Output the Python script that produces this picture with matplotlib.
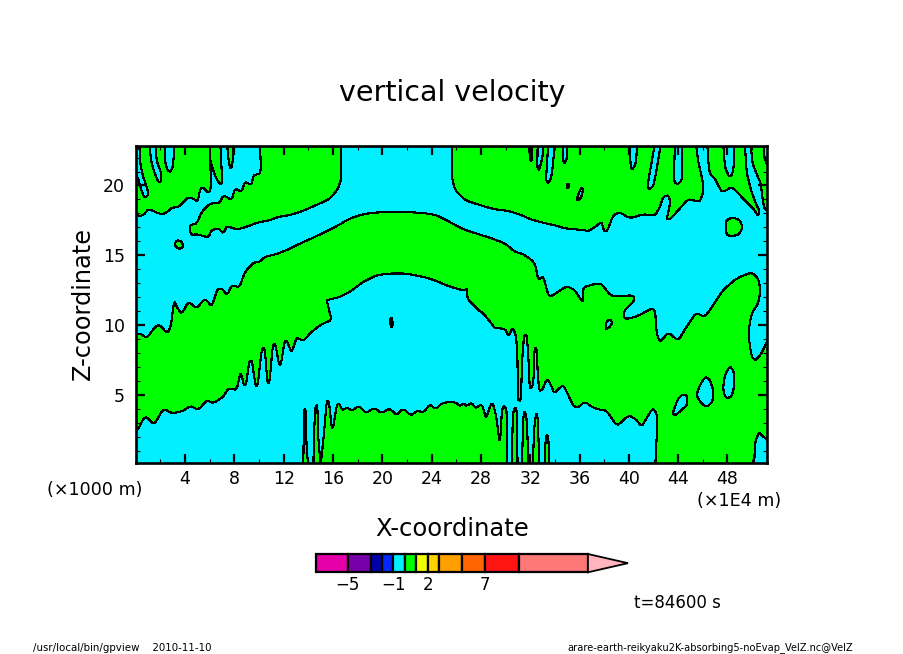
# -*- coding: utf-8 -*-
import matplotlib
matplotlib.use('Agg')
import matplotlib.pyplot as plt
from matplotlib.patches import PathPatch
from matplotlib.path import Path

WIDTH_PX = 904
HEIGHT_PX = 654

GREEN = '#00ff00'
CYAN = '#00f0ff'
CORNER_CUT = 0.3

# contour outlines, x in 1E4 m tick units, z in 1000 m
tl_left_x = [0, 6.0, 6.05, 6.1, 6.0, 5.78, 5.51, 5.24, 5.02, 4.56, 4.16, 3.89, 3.48, 2.94, 2.54, 2.13, 1.73, 1.32, 0.97, 0.73, 0.38, 0]
tl_left_z = [23, 23, 21.68, 20.0, 19.53, 19.53, 19.84, 19.77, 18.86, 19.1, 19.1, 18.81, 18.46, 18.41, 18.1, 17.93, 18.05, 18.22, 18.26, 17.98, 17.81, 17.91]
tl_finger1_x = [6.0, 6.0, 6.32, 6.67, 6.94, 7.0, 6.86]
tl_finger1_z = [23, 21.92, 20.96, 20.25, 20.08, 20.49, 23]
tl_finger2_x = [7.4, 7.56, 7.73, 7.86, 7.89]
tl_finger2_z = [23, 21.56, 21.15, 21.68, 23]
tl_big_x = [10.08, 10.16, 9.54, 9.4, 8.86, 8.59, 8.05, 7.78, 7.11, 6.78, 6.03, 5.35, 4.95, 4.4, 4.35, 4.54, 4.95, 5.89, 6.16, 6.7, 7.11, 7.38, 8.19, 8.86, 9.81, 10.89, 11.57, 12.51, 13.59, 14.95, 15.76, 16.43, 16.7, 16.62]
tl_big_z = [23, 20.86, 20.74, 20.03, 20.27, 19.55, 19.79, 18.95, 19.31, 18.72, 18.72, 18.12, 17.28, 17.16, 16.81, 16.45, 16.52, 16.28, 16.81, 16.93, 16.57, 17.09, 16.85, 17.0, 17.33, 17.52, 17.76, 17.88, 18.19, 18.72, 19.07, 19.79, 20.62, 23]
tl_blob_x = [3.13, 3.32, 3.65, 3.86, 3.73, 3.41]
tl_blob_z = [15.78, 16.07, 16.04, 15.71, 15.49, 15.49]

tl_hole1_x = [0.29, 0.35, 0.56, 0.84, 1.0, 0.94, 0.67, 0.46, 0.24, 0, 0]
tl_hole1_z = [23, 21.68, 20.72, 20.01, 19.53, 19.22, 19.17, 19.65, 20.37, 20.91, 23]
tl_hole2_x = [1.11, 1.24, 1.46, 1.73, 1.92, 2.08, 2.08, 1.73, 1.65, 1.65]
tl_hole2_z = [23, 21.8, 21.08, 20.44, 20.2, 20.37, 20.84, 21.68, 22.15, 23]
tl_hole3_x = [2.32, 2.4, 2.59, 2.81, 3.0, 3.08, 3.08]
tl_hole3_z = [23, 21.56, 21.08, 20.96, 21.32, 22.04, 23]

tr_big_x = [25.63, 25.63, 25.9, 26.71, 27.92, 29.0, 30.22, 31.3, 31.98, 32.92, 34.14, 34.81, 36.3, 36.71, 37.38, 37.79, 37.98, 38.25, 38.73, 39.27, 40.08, 41.17, 42.11, 42.52, 42.79, 43.19, 43.38, 43.06, 43.33, 44.14, 44.81, 45.44, 45.76, 46.03, 45.98, 45.63, 45.44]
tr_big_z = [23, 20.62, 19.67, 18.95, 18.6, 18.31, 18.19, 17.88, 17.59, 17.36, 17.12, 16.93, 16.81, 16.73, 17.12, 17.4, 16.73, 16.76, 17.88, 18.07, 17.64, 17.95, 17.83, 18.48, 19.19, 19.31, 18.83, 17.59, 17.57, 18.36, 19.03, 18.89, 18.86, 19.53, 20.37, 21.68, 23]
tr_hole_a_x = [31.9, 31.98, 32.11, 32.19]
tr_hole_a_z = [23, 21.82, 21.7, 23]
tr_hole_b_x = [32.6, 32.57, 32.73, 33.0, 33.06]
tr_hole_b_z = [23, 21.22, 21.1, 22.06, 23]
tr_hole_c_x = [33.46, 33.27, 33.46, 33.73, 34.0]
tr_hole_c_z = [23, 20.39, 20.15, 20.62, 23]
tr_hole_d_x = [34.68, 34.68, 34.81, 35.0, 35.0]
tr_hole_d_z = [23, 21.7, 21.58, 22.06, 23]
tr_hole_e_x = [40.08, 40.14, 40.3, 40.57, 40.68]
tr_hole_e_z = [23, 21.34, 21.15, 21.58, 23]
tr_hole_f_x = [42.11, 41.49, 41.7, 42.03, 42.6]
tr_hole_f_z = [23, 19.91, 19.72, 20.03, 23]
tr_hole_g_x = [43.73, 43.65, 43.95, 44.33, 44.27]
tr_hole_g_z = [23, 20.27, 20.08, 20.39, 23]
tr_speck1_x = [34.95, 35.0, 35.16, 35.08]
tr_speck1_z = [19.79, 20.15, 20.1, 19.79]
tr_speck2_x = [35.76, 36.08, 36.3, 36.16, 35.9]
tr_speck2_z = [19.0, 19.79, 19.79, 19.19, 18.95]

tr_mid_x = [46.36, 46.44, 46.57, 46.98, 47.25, 47.52, 47.79, 48.33, 48.73, 49.41, 50.09, 50.5, 50.57, 50.36, 49.95, 49.54, 49.41]
tr_mid_z = [23, 21.68, 20.84, 20.48, 20.01, 19.58, 19.6, 19.89, 19.58, 18.93, 18.34, 17.81, 18.22, 18.58, 19.53, 20.96, 23]
tr_mid_hole_x = [47.65, 47.79, 48.14, 48.41, 48.54, 48.54]
tr_mid_hole_z = [23, 21.32, 20.6, 20.84, 21.68, 23]
tr_edge_x = [49.87, 50.03, 50.36, 50.7, 50.84, 51.03, 52, 52, 51.03, 50.9]
tr_edge_z = [23, 21.56, 20.84, 20.13, 19.05, 18.22, 18.1, 21.01, 21.68, 23]
tr_blob_x = [47.84, 47.92, 48.41, 49.0, 49.22, 48.95, 48.33, 47.92]
tr_blob_z = [17.05, 17.52, 17.71, 17.52, 17.0, 16.52, 16.33, 16.5]

# the big arched band, upper edge left to right, then lower edge back
band_x = [-1, 0.08, 0.35, 0.89, 1.57, 1.92, 2.57, 2.84, 3.11, 3.32, 3.73, 4.27, 4.95, 5.49, 5.7, 6.16, 6.62, 6.97, 7.43, 7.78, 8.4, 8.86, 9.54, 10.08, 10.49, 11.43, 12.24, 13.05, 14.68, 16.3, 17.38, 18.46, 19.81, 23.05, 24.4, 25.35,
          26.57, 28.73, 29.95, 30.76, 31.44, 32.38, 32.65, 33.06, 33.46, 33.73, 34.95, 35.62, 36.3, 36.25, 37.38, 37.79, 38.6, 40.35, 40.49, 39.54, 39.68, 40.62, 42.11, 42.25, 42.52, 43.19, 44.0, 44.68, 45.44, 46.16, 47.11, 47.65, 48.73, 49.95, 50.49, 50.68, 50.49, 49.95, 49.68, 49.95, 50.27, 50.76, 51.3, 52,
          52, 42.11, 42.3, 42.25, 41.92, 41.43, 41.03, 40.62, 40.08, 39.68, 39.14, 38.87, 38.19, 37.52, 36.98, 36.43, 35.9, 35.49, 35.08, 34.68, 34.37, 33.94, 33.61, 33.34, 32.99, 32.72, 32.59, 32.53, 32.34, 32.26, 32.05, 31.94, 31.86, 31.72, 31.5, 31.34, 31.24, 30.99, 30.97, 30.86, 30.59, 30.24, 29.97, 29.56, 29.14, 28.73, 28.19, 27.79, 26.98, 26.9, 26.9, 26.7, 25.49,
          23.86, 21.97, 20.62, 19.54, 18.46, 17.38, 16.57, 15.76, 15.49, 15.68, 15.89, 15.08, 14.27, 13.59, 13.05, 12.75, 12.6, 12.26, 12.08, 11.78, 11.62, 11.33, 11.12, 10.85, 10.68, 10.47, 10.22, 9.9, 9.72, 9.42, 9.22, 8.95, 8.77, 8.56, 8.46, 8.19, 7.51, 7.11, 6.3, 5.76, 5.08, 4.4, 3.86, 2.92, 2.24, 1.49, 0.76, 0.08, -1]
band_z = [9.2, 9.34, 9.41, 9.06, 9.89, 10.01, 9.41, 9.89, 11.75, 11.32, 10.8, 11.68, 11.2, 11.8, 11.84, 11.32, 12.58, 12.63, 12.15, 12.87, 12.7, 13.82, 14.47, 14.54, 14.9, 15.09, 15.37, 15.73, 16.38, 17.09, 17.64, 17.95, 18.1, 18.07, 17.88, 17.45,
          16.85, 16.26, 15.85, 15.25, 15.09, 14.47, 13.23, 13.51, 12.15, 12.08, 12.8, 12.51, 11.56, 12.7, 12.99, 12.94, 12.03, 12.15, 11.8, 10.96, 10.42, 10.61, 11.32, 9.41, 8.77, 9.49, 8.89, 9.89, 10.89, 10.56, 11.8, 12.51, 13.35, 13.78, 13.35, 12.51, 11.56, 10.85, 9.41, 7.74, 7.46, 7.98, 8.98, 8.9,
          -1, -1, 2.97, 3.69, 4.04, 3.33, 2.73, 3.21, 3.52, 3.33, 2.85, 2.97, 3.88, 3.97, 4.16, 4.52, 4.12, 4.21, 5.0, 5.71, 5.48, 5.12, 5.84, 6.15, 5.36, 5.31, 6.79, 8.34, 8.34, 5.84, 5.43, 5.72, 7.5, 9.3, 9.3, 7.5, 4.57, 4.64, 7.5, 9.18, 9.84, 9.22, 9.7, 9.77, 9.77, 10.25, 10.85, 11.08, 11.8, 12.03, 12.63, 12.46, 12.75,
          13.35, 13.7, 13.7, 13.58, 13.11, 12.39, 12.03, 11.84, 11.79, 11.08, 10.37, 10.08, 9.53, 8.86, 9.13, 8.3, 8.1, 8.89, 8.89, 7.2, 7.15, 8.63, 8.63, 5.9, 5.83, 8.34, 8.34, 5.7, 5.64, 7.46, 7.46, 5.75, 5.71, 6.5, 6.5, 5.36, 5.48, 4.88, 4.4, 4.64, 3.92, 4.23, 3.85, 3.69, 4.04, 2.85, 3.52, 2.37, 2.0]
band_speck_x = [20.62, 20.81, 20.84, 20.68]
band_speck_z = [10.49, 10.49, 9.89, 9.89]
band_hole1_x = [38.11, 38.19, 38.46, 38.68, 38.41, 38.19]
band_hole1_z = [9.77, 10.25, 10.42, 10.18, 9.84, 9.7]
band_hole2_x = [43.54, 44.0, 44.41, 44.73, 44.73, 44.27, 43.73]
band_hole2_z = [3.69, 4.76, 5.05, 4.93, 4.28, 3.92, 3.52]
band_hole3_x = [45.49, 45.76, 46.22, 46.57, 46.84, 46.79, 46.3, 45.76]
band_hole3_z = [5.0, 5.71, 6.31, 6.07, 5.36, 4.52, 4.12, 4.52]
band_hole4_x = [47.65, 47.79, 48.19, 48.52, 48.54, 48.33, 47.92, 47.7]
band_hole4_z = [5.6, 6.43, 7.07, 6.67, 5.6, 4.88, 4.76, 5.12]
band_hole5_x = [50.17, 50.22, 50.54, 50.9, 51.22, 52, 52]
band_hole5_z = [0, 1.54, 2.33, 2.02, 1.78, 1.5, 0]

# low block along the bottom and the narrow fingers either side of it
block_x = [15.0, 15.27, 15.49, 15.68, 15.89, 16.03, 16.3, 16.49, 16.76, 17.16, 17.51, 18.0, 18.24, 18.68, 19.32, 19.95, 20.57, 21.16, 21.7, 22.3, 22.84, 23.32, 23.86, 24.32, 24.81, 25.49, 25.98, 26.3, 26.57, 26.84, 27.25, 27.57, 27.92, 28.14, 28.41, 28.79, 29.0, 29.27, 29.54, 29.7, 29.88, 30.1, 30.15]
block_z = [0, 2.25, 4.64, 4.52, 2.61, 2.73, 4.28, 4.4, 3.92, 4.09, 3.88, 4.16, 4.11, 3.69, 4.09, 3.69, 4.04, 3.57, 4.04, 3.52, 3.88, 3.73, 4.33, 3.97, 4.4, 4.52, 4.45, 4.21, 4.4, 4.21, 4.45, 4.04, 4.28, 4.21, 3.28, 4.35, 4.35, 3.33, 1.42, 3.93, 4.24, 3.93, 0]
left_finger1_x = [13.59, 13.65, 13.78, 13.86, 14.0]
left_finger1_z = [0, 3.92, 4.04, 1.06, 0]
left_finger2_x = [14.41, 14.46, 14.57, 14.73, 14.81, 15.0]
left_finger2_z = [0, 2.25, 4.21, 4.28, 1.78, 0]
right_finger1_x = [30.5, 30.59, 30.78, 30.91, 30.97]
right_finger1_z = [0, 3.69, 4.12, 3.93, 0]
right_finger2_x = [31.32, 31.45, 31.59, 31.72, 31.86]
right_finger2_z = [0, 3.69, 3.81, 3.21, 0]
right_finger3_x = [32.21, 32.32, 32.48, 32.59, 32.75]
right_finger3_z = [0, 2.73, 3.69, 3.57, 0]
right_finger4_x = [33.15, 33.26, 33.4, 33.5, 33.5]
right_finger4_z = [0, 2.02, 2.14, 1.54, 0]

green_regions = [
    (tl_left_x, tl_left_z), (tl_finger1_x, tl_finger1_z), (tl_finger2_x, tl_finger2_z),
    (tl_big_x, tl_big_z), (tl_blob_x, tl_blob_z), (tr_big_x, tr_big_z), (tr_mid_x, tr_mid_z),
    (tr_edge_x, tr_edge_z), (tr_blob_x, tr_blob_z), (band_x, band_z), (band_speck_x, band_speck_z),
    (block_x, block_z), (left_finger1_x, left_finger1_z), (left_finger2_x, left_finger2_z),
    (right_finger1_x, right_finger1_z), (right_finger2_x, right_finger2_z),
    (right_finger3_x, right_finger3_z), (right_finger4_x, right_finger4_z),
]
cyan_regions = [
    (tl_hole1_x, tl_hole1_z), (tl_hole2_x, tl_hole2_z), (tl_hole3_x, tl_hole3_z),
    (tr_hole_a_x, tr_hole_a_z), (tr_hole_b_x, tr_hole_b_z), (tr_hole_c_x, tr_hole_c_z),
    (tr_hole_d_x, tr_hole_d_z), (tr_hole_e_x, tr_hole_e_z), (tr_hole_f_x, tr_hole_f_z),
    (tr_hole_g_x, tr_hole_g_z), (tr_speck1_x, tr_speck1_z), (tr_speck2_x, tr_speck2_z),
    (tr_mid_hole_x, tr_mid_hole_z), (band_hole1_x, band_hole1_z), (band_hole2_x, band_hole2_z),
    (band_hole3_x, band_hole3_z), (band_hole4_x, band_hole4_z), (band_hole5_x, band_hole5_z),
]

x_major = [4, 8, 12, 16, 20, 24, 28, 32, 36, 40, 44, 48]
x_minor = [2, 6, 10, 14, 18, 22, 26, 30, 34, 38, 42, 46, 50]
z_major = [5, 10, 15, 20]
z_minor = [1, 2, 3, 4, 6, 7, 8, 9, 11, 12, 13, 14, 16, 17, 18, 19, 21, 22]

cbar_levels = [-7.8, -5, -3, -2, -1, 0, 1, 2, 3, 5, 7, 10, 16]
cbar_colors = ['#e600aa', '#7800aa', '#0000aa', '#0028ff', '#00f0ff', '#00ff00',
               '#f0ff00', '#ffd200', '#ffa000', '#ff6400', '#ff1414', '#ff7878']
cbar_over_color = '#ffb4be'
cbar_over_tip = 19.5
cbar_labels = [-5, -1, 2, 7]


def px_x(px):
    return px / WIDTH_PX


def px_y(py):
    return 1 - py / HEIGHT_PX


def axes_rect(left, top, right, bottom):
    return [px_x(left), px_y(bottom), (right - left) / WIDTH_PX, (bottom - top) / HEIGHT_PX]


def outside_frame(x, z):
    return z >= 23 or z <= 0 or x <= -1 or x >= 52


def rounded_path(xs, zs):
    # closed outline with its corners rounded by quadratic curves,
    # vertices beyond the frame stay sharp so nothing curves into view
    pts = list(zip(xs, zs))
    verts = []
    codes = []
    for i, (x, z) in enumerate(pts):
        if outside_frame(x, z):
            verts.append((x, z))
            codes.append(Path.LINETO if verts[:-1] else Path.MOVETO)
            continue
        px, pz = pts[i - 1]
        nx, nz = pts[(i + 1) % len(pts)]
        verts.append((x + CORNER_CUT * (px - x), z + CORNER_CUT * (pz - z)))
        codes.append(Path.LINETO if verts[:-1] else Path.MOVETO)
        verts += [(x, z), (x + CORNER_CUT * (nx - x), z + CORNER_CUT * (nz - z))]
        codes += [Path.CURVE3, Path.CURVE3]
    verts.append(verts[0])
    codes.append(Path.CLOSEPOLY)
    return Path(verts, codes)


def draw_region(ax, xs, zs, color):
    ax.add_patch(PathPatch(rounded_path(xs, zs), facecolor=color, edgecolor='black',
                           linewidth=0.8, antialiased=False))


fig = plt.figure(figsize=(WIDTH_PX / 100, HEIGHT_PX / 100), dpi=100)

ax = fig.add_axes(axes_rect(136, 145.7, 766.7, 462.7))
ax.set_facecolor(CYAN)
for xs, zs in green_regions:
    draw_region(ax, xs, zs, GREEN)
for xs, zs in cyan_regions:
    draw_region(ax, xs, zs, CYAN)

ax.set_xlim(0.02, 51.18)
ax.set_ylim(0.15, 22.85)
ax.set_xticks(x_major)
ax.set_xticks(x_minor, minor=True)
ax.set_yticks(z_major)
ax.set_yticks(z_minor, minor=True)
ax.tick_params(which='major', direction='in', top=True, right=True, length=6.5, width=1.6, labelsize=12.5)
ax.tick_params(axis='x', which='major', pad=5)
ax.tick_params(axis='y', which='major', pad=8)
ax.tick_params(which='minor', direction='in', top=True, right=True, length=3.2, width=0.8)
for spine in ax.spines.values():
    spine.set_linewidth(1.9)

fig.text(px_x(452), px_y(93), 'vertical velocity', fontsize=20.5, ha='center', va='center')
fig.text(px_x(452), px_y(529), 'X-coordinate', fontsize=17.5, ha='center', va='center')
fig.text(px_x(83), px_y(303), 'Z-coordinate', fontsize=17.3, rotation=90, ha='center', va='center')
fig.text(px_x(47), px_y(490), '(\u00d71000 m)', fontsize=12.6, ha='left', va='center')
fig.text(px_x(697), px_y(501), '(\u00d71E4 m)', fontsize=12.6, ha='left', va='center')
fig.text(px_x(634), px_y(603), 't=84600 s', fontsize=12, ha='left', va='center')
fig.text(px_x(33), px_y(648), '/usr/local/bin/gpview    2010-11-10', fontsize=7.4, ha='left', va='center')
fig.text(px_x(567), px_y(648), 'arare-earth-reikyaku2K-absorbing5-noEvap_VelZ.nc@VelZ', fontsize=7.1, ha='left', va='center')

# colour bar, linear in the level values
cax = fig.add_axes(axes_rect(315.7, 554, 628, 572.3))
widths = [b - a for a, b in zip(cbar_levels[:-1], cbar_levels[1:])]
cax.barh([0.5], widths, height=1, left=cbar_levels[:-1], color=cbar_colors, edgecolor='black', linewidth=1.6, clip_on=False)
cax.fill([cbar_levels[-1], cbar_over_tip, cbar_levels[-1]], [1, 0.5, 0], facecolor=cbar_over_color, edgecolor='black', linewidth=1.3, clip_on=False)
cax.set_xlim(cbar_levels[0], cbar_over_tip)
cax.set_ylim(0, 1)
cax.axis('off')
for level in cbar_labels:
    cax.annotate(str(level).replace('-', '\u2212'), (level, 0), xytext=(0, -9.5), textcoords='offset points',
                 fontsize=12, ha='center', va='center', annotation_clip=False)

fig.savefig('out.png', dpi=100)
